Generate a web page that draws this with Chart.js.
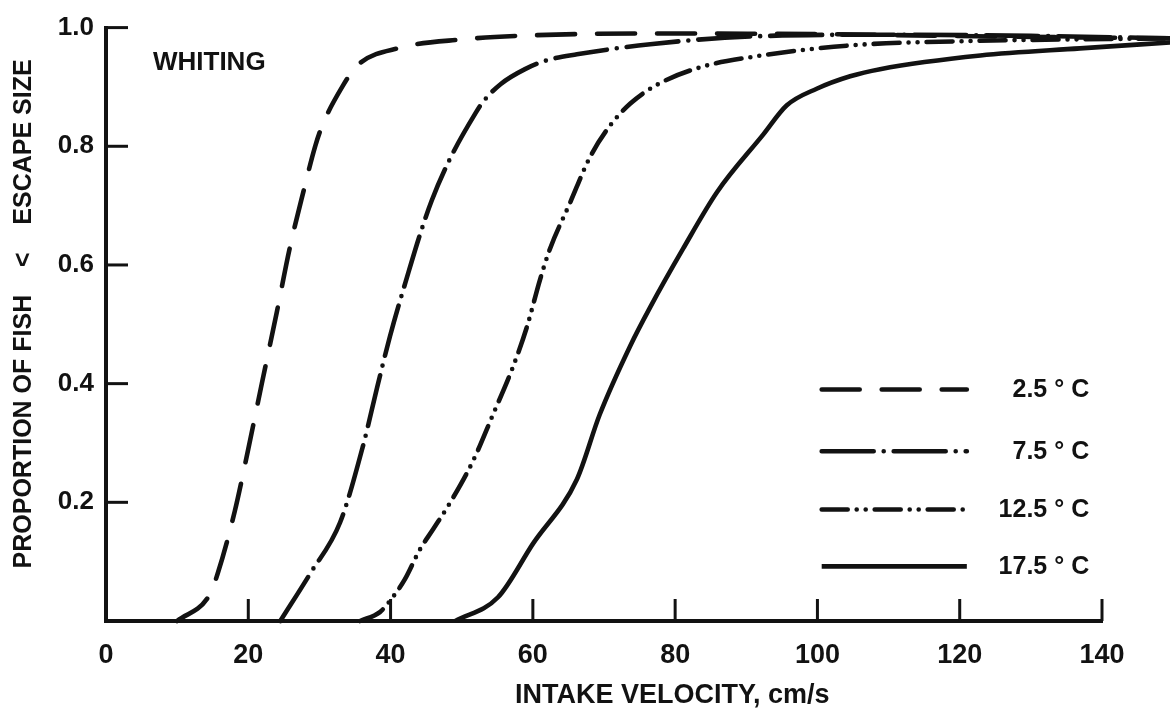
<!DOCTYPE html>
<html>
<head>
<meta charset="utf-8">
<script src="https://cdn.jsdelivr.net/npm/chart.js@4.4.0/dist/chart.umd.min.js"></script>
<style>
  html, body { margin: 0; padding: 0; background: #ffffff; }
  canvas { display: block; }
</style>
</head>
<body>
<canvas id="c" width="1170" height="717"></canvas>
<script>
// ---- data ----
const xTicks = [0, 20, 40, 60, 80, 100, 120, 140];
const yTicks = [0.2, 0.4, 0.6, 0.8, 1.0];
const seriesLabels = ['2.5 \u00B0 C', '7.5 \u00B0 C', '12.5 \u00B0 C', '17.5 \u00B0 C'];

const vel25 = [10, 14.6, 15.7, 18.1, 20.0, 21.9, 24.0, 25.8, 27.8, 29.4, 30.4, 33.2, 35.3, 41.3, 50, 60, 75, 100, 125, 149.6];
const prop25 = [0, 0.045, 0.08, 0.185, 0.29, 0.40, 0.52, 0.627, 0.726, 0.80, 0.835, 0.90, 0.936, 0.966, 0.98, 0.987, 0.99, 0.989, 0.985, 0.982];

const vel75 = [24.5, 28.7, 32.9, 36.1, 38.1, 39.9, 42.5, 44.1, 45.8, 48.4, 51.9, 53.0, 55.5, 58.9, 62, 66.2, 76.5, 90.5, 110, 130, 149.6];
const prop75 = [0, 0.08, 0.166, 0.294, 0.393, 0.479, 0.587, 0.65, 0.709, 0.78, 0.855, 0.875, 0.905, 0.93, 0.945, 0.955, 0.972, 0.985, 0.988, 0.986, 0.982];

const vel125 = [35.7, 38.5, 40.3, 42, 44.1, 46, 48.4, 51.6, 54.4, 57.1, 59.2, 61.0, 62.4, 65.2, 68.0, 70.8, 73.7, 77.5, 83.5, 90.5, 104.6, 120, 149.6];
const prop125 = [0, 0.015, 0.04, 0.07, 0.12, 0.155, 0.2, 0.27, 0.348, 0.425, 0.497, 0.575, 0.627, 0.704, 0.781, 0.834, 0.872, 0.904, 0.933, 0.95, 0.97, 0.977, 0.982];

const vel175 = [49.1, 55.1, 60, 66.2, 69.4, 73.7, 76.5, 81.1, 85.9, 92.4, 95.7, 99.9, 104.6, 108.8, 122.9, 136.9, 149.6];
const prop175 = [0, 0.04, 0.13, 0.239, 0.348, 0.464, 0.529, 0.627, 0.723, 0.82, 0.869, 0.897, 0.918, 0.93, 0.953, 0.965, 0.975];

const xTitle = 'INTAKE VELOCITY, cm/s';
const yTitle = '   PROPORTION OF FISH    <    ESCAPE SIZE';
const panelLabel = 'WHITING';

// ---- styling ----
const INK = '#121212';
const FONT = '"Liberation Sans", Arial, Helvetica, sans-serif';

function pairs(xs, ys) { return xs.map((v, i) => ({ x: v, y: ys[i] })); }

const dashes = [[38, 22], [52, 10, 0, 10], [26, 9, 0, 9, 0, 9], []];
const allX = [vel25, vel75, vel125, vel175];
const allY = [prop25, prop75, prop125, prop175];

const datasets = seriesLabels.map((lab, i) => ({
  label: lab,
  data: pairs(allX[i], allY[i]),
  borderColor: INK,
  backgroundColor: INK,
  borderWidth: 4.6,
  borderDash: dashes[i],
  borderCapStyle: dashes[i].length ? 'round' : 'butt',
  borderJoinStyle: 'round',
  pointRadius: 0,
  cubicInterpolationMode: 'monotone',
  fill: false,
  clip: false
}));

const decor = {
  id: 'decor',
  afterDraw(chart, args, opts) {
    const { ctx, chartArea, scales: { x, y } } = chart;
    ctx.save();
    // inward tick marks
    ctx.strokeStyle = INK;
    ctx.lineWidth = 3;
    ctx.lineCap = 'butt';
    xTicks.forEach(v => {
      if (v === 0) return;
      const px = x.getPixelForValue(v);
      ctx.beginPath();
      ctx.moveTo(px, chartArea.bottom);
      ctx.lineTo(px, chartArea.bottom - opts.tickLen);
      ctx.stroke();
    });
    yTicks.forEach(v => {
      const py = y.getPixelForValue(v);
      ctx.beginPath();
      ctx.moveTo(chartArea.left, py);
      ctx.lineTo(chartArea.left + opts.tickLen, py);
      ctx.stroke();
    });

    // panel label
    ctx.fillStyle = INK;
    ctx.font = 'bold 26px ' + FONT;
    ctx.textAlign = 'left';
    ctx.textBaseline = 'middle';
    ctx.fillText(panelLabel, x.getPixelForValue(opts.panelX), y.getPixelForValue(opts.panelY));

    // x axis title
    ctx.font = 'bold 27px ' + FONT;
    ctx.textAlign = 'center';
    ctx.fillText(xTitle, x.getPixelForValue(opts.xTitleAt), chartArea.bottom + opts.xTitleDrop);

    // legend
    chart.data.datasets.forEach((ds, i) => {
      const py = y.getPixelForValue(opts.legendRows[i]);
      ctx.save();
      ctx.strokeStyle = ds.borderColor;
      ctx.lineWidth = ds.borderWidth;
      ctx.lineCap = ds.borderCapStyle;
      ctx.setLineDash(ds.borderDash || []);
      ctx.beginPath();
      ctx.moveTo(x.getPixelForValue(opts.legendX0), py);
      ctx.lineTo(x.getPixelForValue(opts.legendX1), py);
      ctx.stroke();
      ctx.restore();
      ctx.font = 'bold 25px ' + FONT;
      ctx.textAlign = 'right';
      ctx.textBaseline = 'middle';
      ctx.fillStyle = INK;
      ctx.fillText(ds.label, x.getPixelForValue(opts.legendTextX), py + 1);
    });
    ctx.restore();
  }
};

new Chart(document.getElementById('c'), {
  type: 'line',
  data: { datasets },
  options: {
    responsive: false,
    animation: false,
    devicePixelRatio: 1,
    layout: { padding: { top: 27, right: 68, bottom: 0, left: 0 } },
    plugins: {
      legend: { display: false },
      tooltip: { enabled: false },
      decor: {
        tickLen: 22,
        panelX: 6.6, panelY: 0.941,
        xTitleAt: 79.6, xTitleDrop: 75,
        legendRows: [0.39, 0.286, 0.188, 0.092],
        legendX0: 100.6, legendX1: 121.0,
        legendTextX: 138.2
      }
    },
    scales: {
      x: {
        type: 'linear',
        min: 0, max: 140,
        afterBuildTicks: s => { s.ticks = xTicks.map(v => ({ value: v })); },
        afterFit: s => { s.height = 96; },
        grid: { display: false, drawTicks: false },
        border: { display: true, color: INK, width: 4 },
        ticks: {
          color: INK,
          font: { family: FONT, size: 27, weight: 'bold' },
          padding: 18,
          maxRotation: 0,
          autoSkip: false,
          callback: v => String(v)
        }
      },
      y: {
        type: 'linear',
        min: 0, max: 1,
        afterBuildTicks: s => { s.ticks = yTicks.map(v => ({ value: v })); },
        afterFit: s => { s.width = 106; },
        grid: { display: false, drawTicks: false },
        border: { display: true, color: INK, width: 4 },
        ticks: {
          color: INK,
          font: { family: FONT, size: 26, weight: 'bold' },
          padding: 12,
          callback: v => Number(v).toFixed(1)
        },
        title: {
          display: true,
          text: yTitle,
          color: INK,
          font: { family: FONT, size: 25, weight: 'bold' },
          padding: { top: 9, bottom: 0 }
        }
      }
    }
  },
  plugins: [decor]
});
</script>
</body>
</html>
